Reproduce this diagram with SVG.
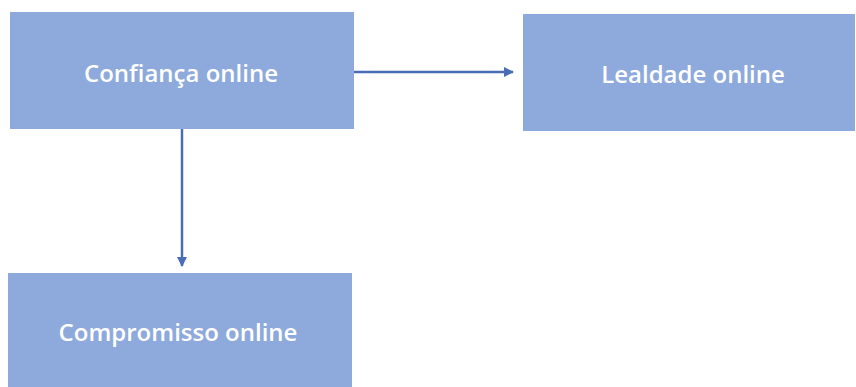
<svg xmlns="http://www.w3.org/2000/svg" width="856" height="387" viewBox="0 0 856 387">
<style>
.box{fill:#8EA9DB}
.lbl{font-family:"Open Sans","Liberation Sans",sans-serif;font-weight:600;font-size:24px;fill:#ffffff;text-anchor:middle;dominant-baseline:central}
.conn{stroke:#4A6DB8;stroke-width:2.5;fill:none;marker-end:url(#ah)}
</style>
<defs>
<marker id="ah" viewBox="0 0 10 10" refX="9" refY="5" markerWidth="4" markerHeight="4" orient="auto" markerUnits="strokeWidth">
<path d="M0,0 L10,5 L0,10 z" fill="#4A6DB8"/>
</marker>
</defs>
<rect width="856" height="387" fill="#ffffff"/>
<g id="confianca">
<rect class="box" x="10" y="12" width="344" height="117"/>
<text class="lbl" x="181" y="72">Confiança online</text>
</g>
<g id="lealdade">
<rect class="box" x="523" y="14" width="332" height="117"/>
<text class="lbl" x="693" y="73">Lealdade online</text>
</g>
<g id="compromisso">
<rect class="box" x="8" y="273" width="344" height="114"/>
<text class="lbl" x="178" y="331">Compromisso online</text>
</g>
<g id="connectors">
<line class="conn" x1="354" y1="72" x2="513" y2="72"/>
<line class="conn" x1="182" y1="129" x2="182" y2="266"/>
</g>
</svg>
